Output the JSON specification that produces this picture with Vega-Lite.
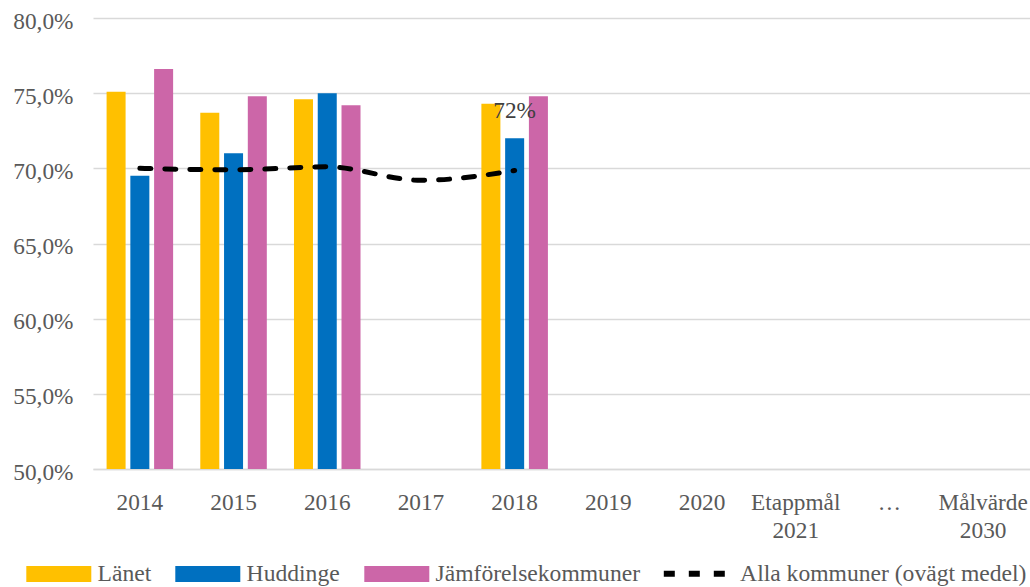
{
  "$schema": "https://vega.github.io/schema/vega-lite/v6.json",
  "width": 937,
  "height": 451,
  "autosize": {"type": "none"},
  "padding": {"left": 93, "top": 18, "right": 0, "bottom": 118},
  "background": "white",
  "config": {"view": {"stroke": null}, "font": "Liberation Serif"},
  "data": {
    "values": [
      {"year": "2014", "serie": "Länet", "value": 0.751},
      {"year": "2014", "serie": "Huddinge", "value": 0.695},
      {"year": "2014", "serie": "Jämförelsekommuner", "value": 0.766},
      {"year": "2014", "serie": "Alla kommuner (ovägt medel)", "value": 0.700},
      {"year": "2015", "serie": "Länet", "value": 0.737},
      {"year": "2015", "serie": "Huddinge", "value": 0.710},
      {"year": "2015", "serie": "Jämförelsekommuner", "value": 0.748},
      {"year": "2015", "serie": "Alla kommuner (ovägt medel)", "value": 0.699},
      {"year": "2016", "serie": "Länet", "value": 0.746},
      {"year": "2016", "serie": "Huddinge", "value": 0.750},
      {"year": "2016", "serie": "Jämförelsekommuner", "value": 0.742},
      {"year": "2016", "serie": "Alla kommuner (ovägt medel)", "value": 0.701},
      {"year": "2017", "serie": "Alla kommuner (ovägt medel)", "value": 0.692},
      {"year": "2018", "serie": "Länet", "value": 0.743},
      {"year": "2018", "serie": "Huddinge", "value": 0.720},
      {"year": "2018", "serie": "Jämförelsekommuner", "value": 0.748},
      {"year": "2018", "serie": "Alla kommuner (ovägt medel)", "value": 0.6985}
    ]
  },
  "layer": [
    {
      "transform": [{"filter": "datum.serie != 'Alla kommuner (ovägt medel)'"}],
      "mark": {"type": "bar"},
      "encoding": {
        "x": {
          "field": "year", "type": "nominal", "title": null,
          "scale": {"domain": ["2014", "2015", "2016", "2017", "2018", "2019", "2020", "Etappmål|2021", "…", "Målvärde|2030"], "paddingInner": 0.29, "paddingOuter": 0.145},
          "axis": {"labelExpr": "split(datum.label, '|')", "labelAngle": 0, "labelFont": "Liberation Serif", "labelFontSize": 23.3, "labelColor": "#595959", "labelPadding": 22, "labelLineHeight": 28.5, "ticks": false, "domainColor": "#D9D9D9", "domainWidth": 1.5, "grid": false}
        },
        "xOffset": {"field": "serie", "type": "nominal", "scale": {"domain": ["Länet", "Huddinge", "Jämförelsekommuner"], "paddingInner": 0.2, "paddingOuter": 0}},
        "y": {
          "field": "value", "type": "quantitative", "title": null,
          "scale": {"domain": [0.5, 0.8], "zero": false, "nice": false},
          "axis": {"values": [0.5, 0.55, 0.6, 0.65, 0.7, 0.75, 0.8], "labelExpr": "replace(format(datum.value, '.1%'), '.', ',')", "domain": false, "ticks": false, "labelFont": "Liberation Serif", "labelFontSize": 23.3, "labelColor": "#595959", "labelPadding": 20, "labelOffset": 3, "gridColor": "#D9D9D9", "gridWidth": 1.5}
        },
        "y2": {"datum": 0.5},
        "color": {
          "field": "serie", "type": "nominal",
          "scale": {"domain": ["Länet", "Huddinge", "Jämförelsekommuner"], "range": ["#FFC000", "#0070C0", "#CC66A8"]},
          "legend": {
            "orient": "none", "legendX": -70.5, "legendY": 544, "direction": "horizontal", "columns": 3, "title": null, "padding": 0,
            "labelFont": "Liberation Serif", "labelFontSize": 23.6, "labelColor": "#595959", "labelOffset": 51.5, "columnPadding": 20, "labelLimit": 400,
            "symbolSize": 256, "symbolType": "M-1,-1H7.125V1H-1Z", "symbolStrokeWidth": 0,
            "encode": {
              "symbols": {
                "update": {
                  "size": {"value": 256},
                  "shape": {"value": "M-1,-1H7.125V1H-1Z"},
                  "fill": {"signal": "scale('color', datum.value)"},
                  "strokeWidth": {"value": 0},
                  "opacity": {"value": 1}
                }
              }
            }
          }
        }
      }
    },
    {
      "transform": [{"filter": "datum.serie == 'Alla kommuner (ovägt medel)'"}],
      "mark": {"type": "line", "interpolate": "monotone", "strokeWidth": 5, "strokeCap": "round", "color": "#000000"},
      "encoding": {
        "x": {"field": "year", "type": "nominal", "bandPosition": 0.5},
        "y": {"field": "value", "type": "quantitative"},
        "strokeDash": {
          "field": "serie", "type": "nominal",
          "scale": {"domain": ["Alla kommuner (ovägt medel)"], "range": [[11, 14]]},
          "legend": {
            "orient": "none", "legendX": 567, "legendY": 544, "title": null, "padding": 0,
            "labelFont": "Liberation Serif", "labelFontSize": 23.6, "labelColor": "#595959", "labelOffset": 56.5, "labelLimit": 400,
            "symbolSize": 256, "symbolType": "M-1,0H7.375", "symbolStrokeWidth": 6, "symbolStrokeColor": "#000000", "symbolFillColor": "transparent", "symbolDash": [18, 6.5],
            "encode": {
              "symbols": {
                "update": {
                  "size": {"value": 256},
                  "shape": {"value": "M-1,0H7.375"},
                  "stroke": {"value": "#000000"},
                  "strokeWidth": {"value": 6},
                  "strokeDash": {"value": [18, 6.5]},
                  "opacity": {"value": 1}
                }
              }
            }
          }
        }
      }
    },
    {
      "transform": [{"filter": "datum.serie == 'Huddinge' && datum.year == '2018'"}],
      "mark": {"type": "text", "font": "Liberation Serif", "fontSize": 23.3, "color": "#404040", "baseline": "alphabetic", "dy": -20},
      "encoding": {
        "x": {"field": "year", "type": "nominal"},
        "xOffset": {"field": "serie", "type": "nominal"},
        "y": {"field": "value", "type": "quantitative"},
        "text": {"field": "value", "type": "quantitative", "format": ".0%"}
      }
    }
  ]
}
